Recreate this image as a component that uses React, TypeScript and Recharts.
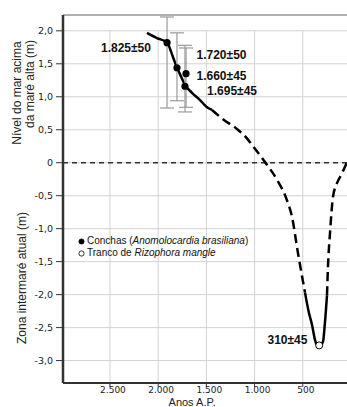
import React from 'react';
import {
  ComposedChart, Line, Scatter, ErrorBar, XAxis, YAxis, CartesianGrid,
  ReferenceLine, ReferenceDot, Legend, Label,
} from 'recharts';

const X_MAX = 2987;
const Y_MIN = -3.34;
const Y_MAX = 2.24;

const xTicks = [2500, 2000, 1500, 1000, 500, 0];
const yTicks = [2, 1.5, 1, 0.5, 0, -0.5, -1, -1.5, -2, -2.5, -3];
const gridYears = [2500, 2000, 1500, 1000, 500];

// curva: anos A.P. x nível (m)
const upperYears = [2116, 2012, 1908, 1846, 1805, 1773, 1722, 1649, 1566, 1493, 1442];
const upperLevel = [1.97, 1.89, 1.82, 1.6, 1.44, 1.34, 1.18, 1.06, 0.95, 0.84, 0.8];

const fallYears = [1442, 1328, 1182, 1079, 1016, 892, 767, 664, 612, 550, 477];
const fallLevel = [0.8, 0.66, 0.51, 0.37, 0.25, 0.01, -0.26, -0.57, -0.82, -1.37, -1.97];

const lowYears = [477, 436, 404, 373, 332, 290, 270, 249];
const lowLevel = [-1.97, -2.28, -2.46, -2.69, -2.8, -2.71, -2.42, -2.01];

const riseYears = [249, 239, 218, 187, 145, 93, 41, 0];
const riseLevel = [-2.01, -1.58, -1.07, -0.52, -0.31, -0.16, 0.01, 0.15];

// conchas (Anomolocardia brasiliana)
const shellYears = [1908, 1805, 1711, 1722];
const shellLevel = [1.82, 1.44, 1.35, 1.16];
const shellErrLow = [0.99, 0.5, 0.51, 0.39];
const shellErrHigh = [0.39, 0.53, 0.39, 0.62];

// tronco de Rizophora mangle
const woodYears = [330];
const woodLevel = [-2.77];

// datações
const dateLabels = ['1.825±50', '1.720±50', '1.660±45', '1.695±45', '310±45'];
const dateLabelYears = [2334, 1343, 1343, 1234, 659];
const dateLabelLevel = [1.75, 1.63, 1.32, 1.09, -2.69];

const legendNames = ['Conchas (', 'Tranco de '];
const legendItalic = ['Anomolocardia brasiliana', 'Rizophora mangle'];
const legendTail = [')', ''];

const toPoints = (xs: number[], ys: number[]) => xs.map((x, i) => ({ x, y: ys[i] }));

const upper = toPoints(upperYears, upperLevel);
const fall = toPoints(fallYears, fallLevel);
const low = toPoints(lowYears, lowLevel);
const rise = toPoints(riseYears, riseLevel);
const shells = shellYears.map((x, i) => ({ x, y: shellLevel[i], err: [shellErrLow[i], shellErrHigh[i]] }));
const wood = toPoints(woodYears, woodLevel);

const fmtYear = (v: number) =>
  v >= 1000 ? `${Math.floor(v / 1000)}.${String(v % 1000).padStart(3, '0')}` : String(v);
const fmtLevel = (v: number) => (v === 0 ? '0' : v.toFixed(1).replace('.', ','));

const SANS = '"Liberation Sans", Arial, sans-serif';
const TICK = '"DejaVu Sans", Verdana, sans-serif';

const YTitles = () => (
  <g fontFamily={SANS} fontSize={12} fill="#222">
    <text transform="translate(21, 93) rotate(-90)" textAnchor="middle">Nível do mar acima</text>
    <text transform="translate(34, 84) rotate(-90)" textAnchor="middle">da maré alta (m)</text>
    <text transform="translate(26, 278) rotate(-90)" textAnchor="middle">Zona intermaré atual (m)</text>
  </g>
);

const LegendBox = () => (
  <div style={{ fontFamily: SANS, fontSize: 10, lineHeight: '12px', color: '#111' }}>
    {legendNames.map((name, i) => (
      <div key={name} style={{ display: 'flex', alignItems: 'center', whiteSpace: 'nowrap' }}>
        <svg width={7} height={7} style={{ marginRight: 2 }}>
          <circle cx={3.5} cy={3.5} r={2.6} fill={i === 0 ? '#000' : '#fff'} stroke="#000" strokeWidth={0.8} />
        </svg>
        <span>{name}<i>{legendItalic[i]}</i>{legendTail[i]}</span>
      </div>
    ))}
  </div>
);

export default function App() {
  return (
    <div style={{ position: 'absolute', left: 0, top: 0, width: 347, height: 407, overflow: 'hidden', background: '#fff' }}>
      <ComposedChart width={360} height={407} margin={{ top: 15, right: 9, bottom: 0, left: 0 }}>
        <CartesianGrid vertical={false} stroke="#d2d2d2" />
        {gridYears.map((t) => (
          <ReferenceLine key={t} segment={[{ x: t, y: Y_MIN }, { x: t, y: 2 }]} stroke="#d2d2d2" />
        ))}
        <ReferenceLine y={Y_MAX} stroke="#777" strokeWidth={1.2} />
        <ReferenceLine y={0} stroke="#333" strokeWidth={1.3} strokeDasharray="5 4" />
        <XAxis
          type="number"
          dataKey="x"
          domain={[0, X_MAX]}
          reversed
          allowDataOverflow
          ticks={xTicks}
          tickFormatter={fmtYear}
          interval={0}
          height={24}
          tickSize={4}
          tickMargin={0}
          axisLine={{ stroke: '#333', strokeWidth: 2 }}
          tickLine={{ stroke: '#333' }}
          tick={{ fontFamily: TICK, fontSize: 9, fill: '#222', dx: 3 }}
        >
          <Label value="Anos A.P." position="insideBottom" offset={1.5} dx={-15} style={{ fontFamily: SANS, fontSize: 11, fill: '#222' }} />
        </XAxis>
        <YAxis
          type="number"
          dataKey="y"
          domain={[Y_MIN, Y_MAX]}
          allowDataOverflow
          ticks={yTicks}
          tickFormatter={fmtLevel}
          interval={0}
          width={63}
          tickSize={7}
          tickMargin={3}
          axisLine={{ stroke: '#333', strokeWidth: 2.5 }}
          tickLine={{ stroke: '#333' }}
          tick={{ fontFamily: TICK, fontSize: 9.5, fill: '#222' }}
          label={{ content: () => <YTitles /> }}
        />
        <Line data={upper} dataKey="y" type="monotone" stroke="#000" strokeWidth={2.5} dot={false} isAnimationActive={false} />
        <Line data={fall} dataKey="y" type="monotone" stroke="#000" strokeWidth={2.5} strokeDasharray="9 5" dot={false} isAnimationActive={false} />
        <Line data={low} dataKey="y" type="monotone" stroke="#000" strokeWidth={2.5} dot={false} isAnimationActive={false} />
        <Line data={rise} dataKey="y" type="monotone" stroke="#000" strokeWidth={2.5} strokeDasharray="9 5" dot={false} isAnimationActive={false} />
        <Scatter
          data={shells}
          isAnimationActive={false}
          shape={(p: any) => <circle cx={p.cx} cy={p.cy} r={3.6} fill="#000" />}
        >
          <ErrorBar dataKey="err" direction="y" width={7} stroke="#9a9a9a" strokeWidth={1.2} />
        </Scatter>
        <Scatter
          data={wood}
          isAnimationActive={false}
          shape={(p: any) => <circle cx={p.cx} cy={p.cy} r={3.5} fill="#fff" stroke="#000" strokeWidth={1} />}
        />
        {dateLabels.map((txt, i) => (
          <ReferenceDot
            key={txt}
            x={dateLabelYears[i]}
            y={dateLabelLevel[i]}
            r={0}
            stroke="none"
            fill="none"
            label={{ value: txt, position: 'center', fontFamily: SANS, fontSize: 12, fontWeight: 'bold', fill: '#111' }}
          />
        ))}
        <Legend
          layout="vertical"
          align="center"
          verticalAlign="middle"
          content={() => <LegendBox />}
          wrapperStyle={{ top: 235, left: 78, width: 'auto' }}
        />
      </ComposedChart>
    </div>
  );
}
